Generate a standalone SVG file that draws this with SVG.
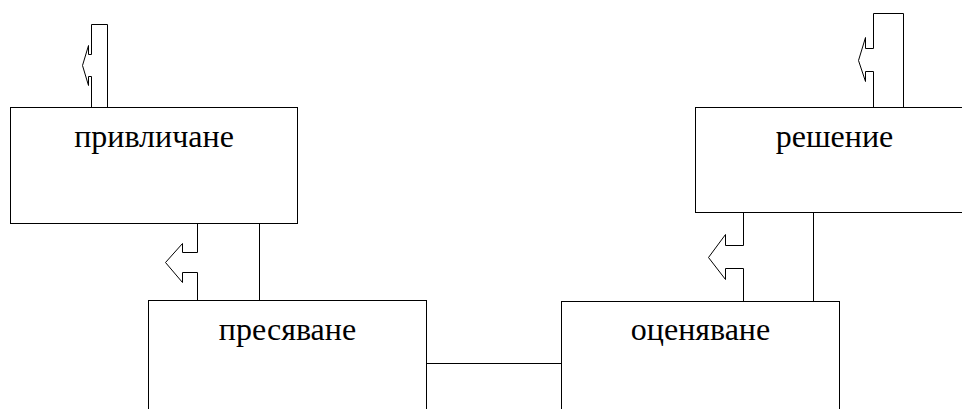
<svg xmlns="http://www.w3.org/2000/svg" width="962" height="409" viewBox="0 0 962 409">
  <style>
    .box { fill: #ffffff; stroke: #000000; stroke-width: 1; }
    .wire { fill: none; stroke: #000000; stroke-width: 1; }
    .label { font-family: "Liberation Serif", "Times New Roman", serif; font-size: 32px; fill: #000000; text-anchor: middle; }
  </style>
  <rect width="962" height="409" fill="#ffffff"/>

  <g id="connectors">
    <!-- feed into привличане -->
    <path class="wire" d="M91.5,107.5 V76.5 H88.5 V85.5 L82.5,65.5 L88.5,45.5 V54.5 H91.5 V24.5 H107.5 V107.5"/>
    <!-- feed into решение -->
    <path class="wire" d="M873.5,107.5 V71.5 H865.5 V81.5 L858.5,60.5 L865.5,37.5 V48.5 H873.5 V13.5 H903.5 V107.5"/>
    <!-- привличане to пресяване -->
    <path class="wire" d="M197.5,300.5 V272.5 H182.5 V282.5 L165.5,262.5 L182.5,243.5 V252.5 H197.5 V223.5"/>
    <path class="wire" d="M259.5,223.5 V300.5"/>
    <!-- решение to оценяване -->
    <path class="wire" d="M743.5,301.5 V268.5 H725.5 V279.5 L708.5,257.5 L725.5,234.5 V245.5 H743.5 V212.5"/>
    <path class="wire" d="M813.5,212.5 V301.5"/>
    <!-- пресяване to оценяване -->
    <path class="wire" d="M427,363.5 H561"/>
  </g>

  <g id="node-privlichane">
    <rect class="box" x="10.5" y="107.5" width="287" height="116"/>
    <text class="label" x="154" y="147">привличане</text>
  </g>

  <g id="node-presyavane">
    <rect class="box" x="148.5" y="300.5" width="278" height="200"/>
    <text class="label" x="287.5" y="340">пресяване</text>
  </g>

  <g id="node-otsenyavane">
    <rect class="box" x="561.5" y="301.5" width="278" height="200"/>
    <text class="label" x="700.5" y="340">оценяване</text>
  </g>

  <g id="node-reshenie">
    <rect class="box" x="695.5" y="107.5" width="300" height="105"/>
    <text class="label" x="834.5" y="147">решение</text>
  </g>
</svg>
